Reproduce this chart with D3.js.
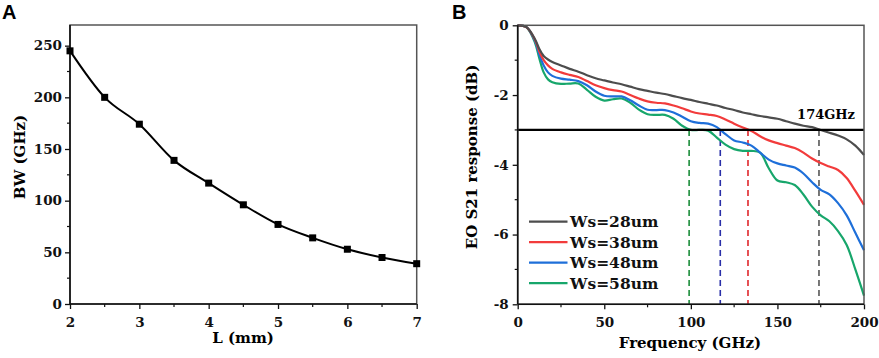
<!DOCTYPE html>
<html><head><meta charset="utf-8">
<script src="https://cdn.jsdelivr.net/npm/d3@7"></script>
<style>body{margin:0;background:#fff}svg{display:block}</style>
</head><body>
<svg id="c" width="879" height="358"></svg>
<script>
// ---- Panel A data ----
const lengthsMM = [2, 2.5, 3, 3.5, 4, 4.5, 5, 5.5, 6, 6.5, 7];
const bwGHz = [245, 200, 174, 139, 117, 96, 77, 64, 53, 45, 39];
const aXTicks = [2, 3, 4, 5, 6, 7];
const aYTicks = [0, 50, 100, 150, 200, 250];

// ---- Panel B data ----
const freqGHz = [0, 5, 10, 12.5, 15, 17.5, 20, 25, 30, 35, 40, 45, 50, 55, 60, 65, 70, 75, 80, 85, 90, 95, 100, 105, 110, 115, 120, 125, 130, 135, 140, 145, 150, 155, 160, 165, 170, 175, 180, 185, 190, 195, 200];
const ws28 = [0, -0.05, -0.4, -0.68, -0.88, -0.98, -1.05, -1.15, -1.25, -1.33, -1.43, -1.52, -1.58, -1.64, -1.69, -1.76, -1.83, -1.88, -1.93, -1.97, -2.03, -2.09, -2.14, -2.2, -2.25, -2.3, -2.37, -2.43, -2.5, -2.55, -2.6, -2.64, -2.68, -2.75, -2.82, -2.88, -2.92, -3.0, -3.08, -3.16, -3.27, -3.45, -3.72];
const ws38 = [0, -0.05, -0.42, -0.75, -1.0, -1.15, -1.25, -1.35, -1.42, -1.48, -1.6, -1.72, -1.8, -1.86, -1.9, -2.0, -2.1, -2.18, -2.22, -2.24, -2.3, -2.38, -2.47, -2.53, -2.56, -2.6, -2.7, -2.82, -2.93, -3.03, -3.18, -3.3, -3.38, -3.45, -3.52, -3.65, -3.82, -3.95, -4.05, -4.15, -4.38, -4.75, -5.15];
const ws48 = [0, -0.05, -0.45, -0.85, -1.15, -1.35, -1.45, -1.53, -1.56, -1.6, -1.72, -1.9, -2.02, -2.04, -2.04, -2.15, -2.3, -2.42, -2.43, -2.43, -2.5, -2.62, -2.75, -2.8, -2.82, -2.92, -3.12, -3.3, -3.36, -3.45, -3.65, -3.85, -3.96, -4.02, -4.08, -4.25, -4.5, -4.72, -4.85, -5.1, -5.45, -5.95, -6.45];
const ws58 = [0, -0.05, -0.5, -0.95, -1.35, -1.55, -1.63, -1.68, -1.67, -1.67, -1.85, -2.05, -2.16, -2.12, -2.1, -2.22, -2.42, -2.55, -2.57, -2.57, -2.68, -2.88, -3.0, -3.0, -3.02, -3.22, -3.42, -3.55, -3.6, -3.6, -3.65, -4.1, -4.45, -4.5, -4.58, -4.85, -5.2, -5.45, -5.62, -5.9, -6.3, -7.0, -7.75];
const seriesNames = ["Ws=28um", "Ws=38um", "Ws=48um", "Ws=58um"];
const seriesColors = ["#4d4d4d", "#f23b3b", "#1e6fd9", "#17a66b"];
const cutoffGHz = [174, 133, 117, 99];
const cutoffColors = ["#555555", "#e0262b", "#2a2fa8", "#1b8c3a"];
const bXTicks = [0, 50, 100, 150, 200];
const bYTicks = [0, -2, -4, -6, -8];
const thresholdDB = -3;
const annotation = "174GHz";

const svg = d3.select("#c");
const serif = "'DejaVu Serif', serif";
const tickFont = 13.5;

function frame(g, x0, x1, y0, y1) {
  g.append("rect").attr("x", x0).attr("y", y0).attr("width", x1 - x0).attr("height", y1 - y0)
    .attr("fill", "none").attr("stroke", "#555").attr("stroke-width", 1.5);
  g.append("line").attr("x1", x0).attr("x2", x0).attr("y1", y0).attr("y2", y1).attr("stroke", "#111").attr("stroke-width", 1.6);
  g.append("line").attr("x1", x0).attr("x2", x1).attr("y1", y1).attr("y2", y1).attr("stroke", "#111").attr("stroke-width", 1.6);
}
function styleAxis(g) {
  g.select(".domain").remove();
  g.selectAll(".tick line").attr("stroke", "#111").attr("stroke-width", 1.3);
  g.selectAll(".tick text").attr("font-family", serif).attr("font-weight", "bold")
    .attr("font-size", tickFont).attr("fill", "#111");
}
function minorTicks(g, vals, scale, orient, pos) {
  vals.forEach(v => {
    if (orient === "x") g.append("line").attr("x1", scale(v)).attr("x2", scale(v)).attr("y1", pos).attr("y2", pos + 3).attr("stroke", "#111").attr("stroke-width", 1.2);
    else g.append("line").attr("y1", scale(v)).attr("y2", scale(v)).attr("x1", pos).attr("x2", pos - 3).attr("stroke", "#111").attr("stroke-width", 1.2);
  });
}

// ===== Panel A =====
{
  const L = 70, R = 416.7, T = 25, B = 304;
  const x = d3.scaleLinear().domain([2, 7]).range([L, R]);
  const y = d3.scaleLinear().domain([0, 270]).range([B, T]);
  const g = svg.append("g");
  frame(g, L, R, T, B);
  const gx = g.append("g").attr("transform", `translate(0,${B})`)
    .call(d3.axisBottom(x).tickValues(aXTicks).tickSize(5).tickPadding(8).tickFormat(d3.format("d")));
  styleAxis(gx);
  const gy = g.append("g").attr("transform", `translate(${L},0)`)
    .call(d3.axisLeft(y).tickValues(aYTicks).tickSize(5).tickPadding(3));
  styleAxis(gy);
  minorTicks(g, [2.5, 3.5, 4.5, 5.5, 6.5], x, "x", B);
  minorTicks(g, [25, 75, 125, 175, 225], y, "y", L);
  const pts = lengthsMM.map((d, i) => [d, bwGHz[i]]);
  g.append("path").datum(pts).attr("fill", "none").attr("stroke", "#000").attr("stroke-width", 2)
    .attr("d", d3.line().x(d => x(d[0])).y(d => y(d[1])).curve(d3.curveMonotoneX));
  g.selectAll("rect.m").data(pts).join("rect").attr("class", "m")
    .attr("x", d => x(d[0]) - 3.5).attr("y", d => y(d[1]) - 3.5).attr("width", 7).attr("height", 7).attr("fill", "#000");
  g.append("text").attr("x", 243).attr("y", 343).attr("text-anchor", "middle")
    .attr("font-family", serif).attr("font-weight", "bold").attr("font-size", 15).text("L (mm)");
  g.append("text").attr("transform", "translate(25,157) rotate(-90)").attr("text-anchor", "middle")
    .attr("font-family", serif).attr("font-weight", "bold").attr("font-size", 15).text("BW (GHz)");
  svg.append("text").attr("x", 2).attr("y", 19).attr("font-family", "'Liberation Sans', Arial, sans-serif")
    .attr("font-weight", "bold").attr("font-size", 20).text("A");
}

// ===== Panel B =====
{
  const L = 517.7, R = 864, T = 25.3, B = 304.3;
  const x = d3.scaleLinear().domain([0, 200]).range([L, R]);
  const y = d3.scaleLinear().domain([-8, 0]).range([B, T]);
  const g = svg.append("g");
  const gx = g.append("g").attr("transform", `translate(0,${B})`)
    .call(d3.axisBottom(x).tickValues(bXTicks).tickSize(5).tickPadding(8));
  styleAxis(gx);
  const gy = g.append("g").attr("transform", `translate(${L},0)`)
    .call(d3.axisLeft(y).tickValues(bYTicks).tickSize(5).tickPadding(4).tickFormat(d => d === 0 ? "0" : "-" + Math.abs(d)));
  styleAxis(gy);
  minorTicks(g, [25, 75, 125, 175], x, "x", B);
  minorTicks(g, [-1, -3, -5, -7], y, "y", L);

  // cutoff dashed lines
  cutoffGHz.forEach((f, i) => {
    g.append("line").attr("x1", x(f)).attr("x2", x(f)).attr("y1", y(thresholdDB)).attr("y2", y(-8))
      .attr("stroke", cutoffColors[i]).attr("stroke-width", 1.6).attr("stroke-dasharray", "6,4");
  });

  const allSeries = [ws28, ws38, ws48, ws58];
  const line = d3.line().x((d, i) => x(freqGHz[i])).y(d => y(d)).curve(d3.curveCatmullRom.alpha(0.5));
  [3, 2, 1, 0].forEach(k => {
    g.append("path").datum(allSeries[k]).attr("fill", "none").attr("stroke", seriesColors[k])
      .attr("stroke-width", 2.2).attr("d", line);
  });

  g.append("line").attr("x1", x(0)).attr("x2", x(200)).attr("y1", y(thresholdDB)).attr("y2", y(thresholdDB))
    .attr("stroke", "#000").attr("stroke-width", 2.2);
  frame(g, L, R, T, B);

  g.append("text").attr("x", 855).attr("y", 119).attr("text-anchor", "end")
    .attr("font-family", serif).attr("font-weight", "bold").attr("font-size", 13).text(annotation);

  // legend
  seriesNames.forEach((n, i) => {
    const yy = 221.7 + i * 20.5;
    g.append("line").attr("x1", 529).attr("x2", 567.5).attr("y1", yy).attr("y2", yy)
      .attr("stroke", seriesColors[i]).attr("stroke-width", 2.2);
    g.append("text").attr("x", 570).attr("y", yy + 5.5).attr("font-family", serif).attr("font-weight", "bold")
      .attr("font-size", 15.5).attr("fill", "#111").text(n);
  });

  g.append("text").attr("x", 690).attr("y", 348).attr("text-anchor", "middle")
    .attr("font-family", serif).attr("font-weight", "bold").attr("font-size", 15).text("Frequency (GHz)");
  g.append("text").attr("transform", "translate(477,157) rotate(-90)").attr("text-anchor", "middle")
    .attr("font-family", serif).attr("font-weight", "bold").attr("font-size", 15).text("EO S21 response (dB)");
  svg.append("text").attr("x", 452).attr("y", 19).attr("font-family", "'Liberation Sans', Arial, sans-serif")
    .attr("font-weight", "bold").attr("font-size", 20).text("B");
}
</script>
</body></html>
